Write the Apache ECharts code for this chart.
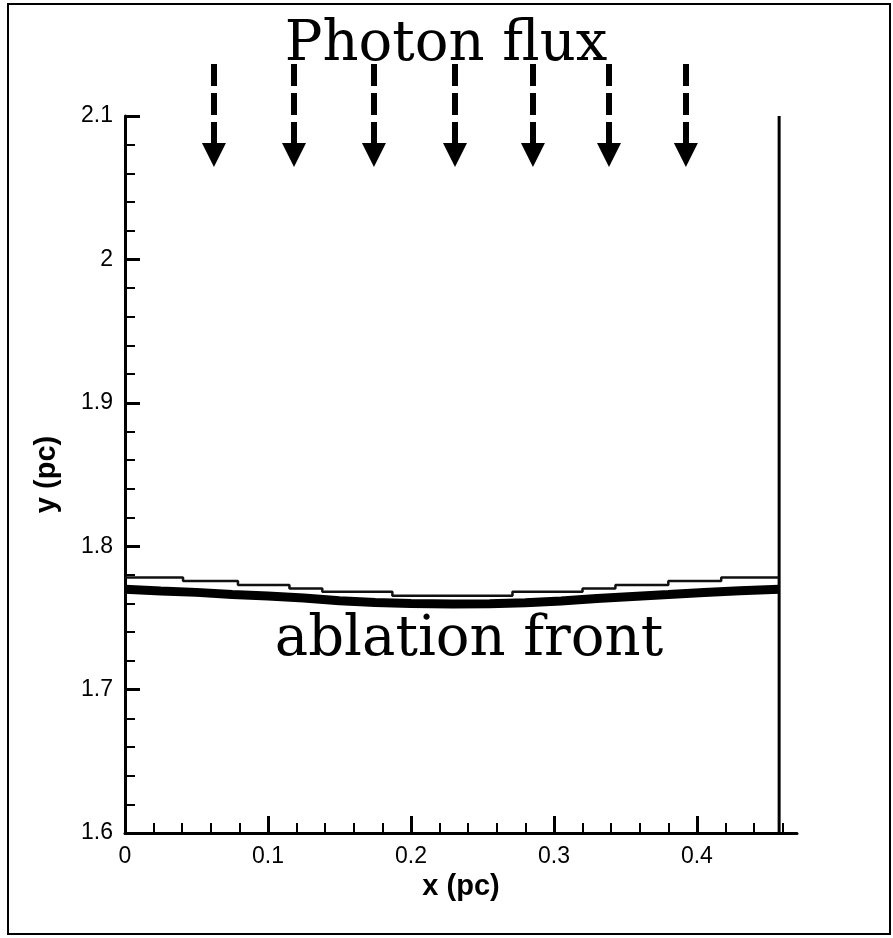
<!DOCTYPE html>
<html>
<head>
<meta charset="utf-8">
<script src="https://cdn.jsdelivr.net/npm/echarts@6/dist/echarts.min.js"></script>
<style>
  html, body { margin: 0; padding: 0; background: #fff; }
  #chart { width: 893px; height: 938px; }
</style>
</head>
<body>
<div id="chart"></div>
<script>
// axis ticks
const xMajorTicks = [0, 0.1, 0.2, 0.3, 0.4];
const xMinorTicks = [0.02, 0.04, 0.06, 0.08, 0.12, 0.14, 0.16, 0.18, 0.22, 0.24, 0.26, 0.28,
  0.32, 0.34, 0.36, 0.38, 0.42, 0.44, 0.46];

// right edge of the domain
const domainEnd = 0.4575;

// thin (stepped) front
const thinX = [0, 0.0406, 0.079, 0.115, 0.138, 0.187, 0.271, 0.320, 0.343, 0.380, 0.417, 0.4575];
const thinY = [1.7782, 1.7758, 1.7730, 1.7705, 1.7682, 1.7654, 1.7682, 1.7705, 1.7730, 1.7758, 1.7782, 1.7782];

// thick front (ablation front)
const thickX = [0, 0.025, 0.05, 0.075, 0.1, 0.125, 0.15, 0.175, 0.2, 0.229, 0.255, 0.28, 0.305,
  0.33, 0.355, 0.38, 0.405, 0.43, 0.4575];
const thickY = [1.7700, 1.7688, 1.7678, 1.7664, 1.7652, 1.7638, 1.7620, 1.7607, 1.7600, 1.7597,
  1.7599, 1.7605, 1.7618, 1.7636, 1.7650, 1.7663, 1.7677, 1.7690, 1.7700];

// photon flux arrows
const arrowX = [0.0622, 0.1182, 0.1741, 0.2308, 0.2853, 0.3385, 0.3923];
const arrowTop = 2.1363;
const arrowTip = 2.0728;

const chart = echarts.init(document.getElementById('chart'), null, { renderer: 'canvas' });
const tickFont = { fontFamily: 'Liberation Sans', fontSize: 23, color: '#000' };
const nameFont = { fontFamily: 'Liberation Sans', fontSize: 29, fontWeight: 'bold', color: '#000' };
const axisLine = { show: true, onZero: false, lineStyle: { color: '#000', width: 3 } };

chart.setOption({
  animation: false,
  backgroundColor: '#fff',
  grid: { left: 125, right: 96, top: 116, bottom: 105, outerBoundsMode: 'none' },
  xAxis: [
    {
      type: 'value', min: 0, max: 0.47, position: 'bottom',
      name: 'x (pc)', nameLocation: 'middle', nameGap: 36, nameTextStyle: nameFont,
      axisLine,
      axisTick: { show: true, inside: true, length: 17, customValues: xMajorTicks, lineStyle: { color: '#000', width: 3 } },
      axisLabel: { show: true, margin: 12, customValues: xMajorTicks, ...tickFont },
      splitLine: { show: false },
    },
    {
      type: 'value', min: 0, max: 0.47, position: 'bottom',
      axisLine: { show: false },
      axisTick: { show: true, inside: true, length: 10, customValues: xMinorTicks, lineStyle: { color: '#000', width: 2 } },
      axisLabel: { show: false },
      splitLine: { show: false },
    },
  ],
  yAxis: {
    type: 'value', min: 1.6, max: 2.1, interval: 0.1,
    name: 'y (pc)', nameLocation: 'middle', nameGap: 64, nameRotate: 90, nameTextStyle: nameFont,
    axisLine,
    axisTick: { show: true, inside: true, length: 15, lineStyle: { color: '#000', width: 3 } },
    minorTick: { show: true, splitNumber: 5, length: 10, lineStyle: { color: '#000', width: 2 } },
    axisLabel: { show: true, margin: 12, ...tickFont },
    splitLine: { show: false },
  },
  graphic: [
    { type: 'rect', shape: { x: 8, y: 4, width: 882, height: 930 }, style: { fill: 'none', stroke: '#000', lineWidth: 2 }, silent: true },
    { type: 'text', x: 446, y: 45, style: { text: 'Photon flux', fontFamily: 'DejaVu Serif', fontSize: 56, fill: '#000', textAlign: 'center', textVerticalAlign: 'middle' } },
    { type: 'text', x: 469, y: 640, style: { text: 'ablation front', fontFamily: 'DejaVu Serif', fontSize: 56, fill: '#000', textAlign: 'center', textVerticalAlign: 'middle' } },
  ],
  series: [
    {
      name: 'boundary', type: 'line', symbol: 'none',
      data: [[domainEnd, 1.6], [domainEnd, 2.1]],
      lineStyle: { color: '#000', width: 3 },
    },
    {
      name: 'front', type: 'line', symbol: 'none', step: 'end',
      data: thinX.map((x, i) => [x, thinY[i]]),
      lineStyle: { color: '#111', width: 2.5 },
    },
    {
      name: 'ablation front', type: 'line', symbol: 'none',
      data: thickX.map((x, i) => [x, thickY[i]]),
      lineStyle: { color: '#000', width: 9 },
    },
    {
      name: 'photon flux', type: 'lines', coordinateSystem: 'cartesian2d', clip: false,
      symbol: ['none', 'triangle'], symbolSize: 24,
      lineStyle: { color: '#000', width: 6, opacity: 1, type: [22, 7], curveness: 0 },
      data: arrowX.map((x) => ({ coords: [[x, arrowTop], [x, arrowTip]] })),
    },
  ],
});
</script>
</body>
</html>
